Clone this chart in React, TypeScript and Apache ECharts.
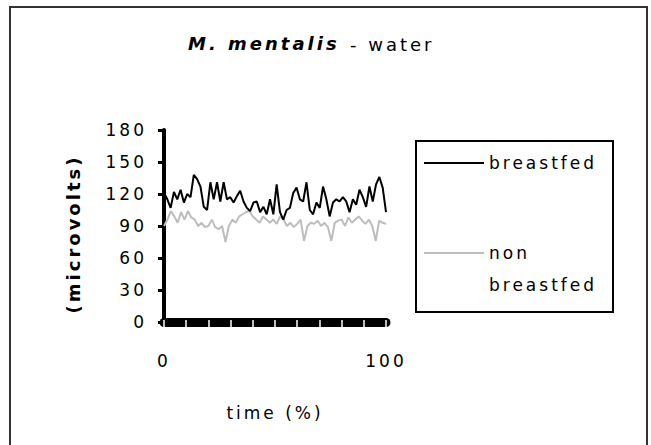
import React, { useEffect, useRef } from "react";
import * as echarts from "echarts";

const titleMain = "M. mentalis";
const titleSub = "- water";
const yAxisName = "(microvolts)";
const xAxisName = "time (%)";
const seriesNames = ["breastfed", "non breastfed"];
const xTickLabels = [0, 100];

const breastfed = [
  121, 115, 107, 122, 115, 124, 112, 120, 117, 138,
  134, 127, 108, 105, 131, 115, 131, 113, 131, 115,
  117, 112, 118, 123, 113, 107, 104, 112, 113, 103,
  108, 101, 115, 101, 129, 103, 96, 105, 107, 121,
  126, 115, 113, 131, 105, 101, 112, 107, 127, 115,
  99, 112, 115, 113, 117, 113, 103, 115, 110, 124,
  117, 108, 127, 113, 129, 136, 126, 103,
];

const nonBreastfed = [
  90, 96, 104, 99, 93, 103, 96, 104, 98, 96,
  90, 93, 89, 90, 96, 89, 87, 90, 75, 90,
  96, 93, 99, 101, 103, 104, 99, 96, 93, 99,
  96, 93, 96, 92, 99, 96, 90, 93, 89, 92,
  96, 76, 90, 93, 92, 95, 90, 93, 89, 76,
  93, 95, 96, 90, 98, 93, 96, 99, 95, 92,
  96, 90, 76, 95, 93, 92,
];

const FONT = '"DejaVu Sans", Verdana, sans-serif';

function toPairs(values: number[]) {
  const n = values.length;
  return values.map((v, i) => [(i * 100) / (n - 1), v]);
}

export default function App() {
  const ref = useRef<HTMLDivElement>(null);

  useEffect(() => {
    if (!ref.current) return;
    const chart = echarts.init(ref.current, undefined, { renderer: "svg" });
    chart.setOption({
      animation: false,
      backgroundColor: "#fff",
      title: [
        {
          text: titleMain,
          left: 188,
          top: 34,
          padding: 0,
          textStyle: {
            fontFamily: FONT,
            fontStyle: "italic",
            fontWeight: "bold",
            fontSize: 18,
            color: "#000",
          },
        },
        {
          text: titleSub,
          left: 350,
          top: 35,
          padding: 0,
          textStyle: {
            fontFamily: FONT,
            fontWeight: "normal",
            fontSize: 18,
            color: "#000",
          },
        },
      ],
      grid: { left: 164, right: 265, top: 130, bottom: 123 },
      legend: {
        orient: "vertical",
        left: 424,
        top: 147,
        padding: 0,
        itemGap: 26,
        itemWidth: 60,
        itemHeight: 2,
        icon: "rect",
        data: seriesNames,
        formatter: (name: string) =>
          name === "non breastfed" ? "\nnon\nbreastfed" : name,
        textStyle: {
          fontFamily: FONT,
          fontSize: 17,
          lineHeight: 32,
          color: "#000",
        },
      },
      xAxis: [
        {
          type: "value",
          min: 0,
          max: 100,
          interval: 10,
          offset: 3,
          position: "bottom",
          name: xAxisName,
          nameLocation: "middle",
          nameGap: 79,
          nameTextStyle: { fontFamily: FONT, fontSize: 17, color: "#000" },
          axisLine: { show: true, lineStyle: { color: "#000", width: 9 } },
          axisTick: { show: false },
          splitLine: { show: false },
          axisLabel: {
            margin: 27,
            fontFamily: FONT,
            fontSize: 17,
            color: "#000",
            formatter: (v: number) => (xTickLabels.includes(v) ? String(v) : ""),
          },
        },
        {
          type: "value",
          min: 0,
          max: 100,
          interval: 10,
          offset: 8,
          position: "bottom",
          z: 5,
          axisLine: { show: false },
          axisLabel: { show: false },
          splitLine: { show: false },
          axisTick: {
            show: true,
            inside: true,
            length: 10,
            lineStyle: { color: "#fff", width: 1.5 },
          },
        },
      ],
      yAxis: {
        type: "value",
        min: 0,
        max: 180,
        interval: 30,
        name: yAxisName,
        nameLocation: "middle",
        nameGap: 82,
        nameRotate: 90,
        nameTextStyle: {
          fontFamily: FONT,
          fontSize: 18,
          fontWeight: "bold",
          color: "#000",
          padding: [0, 16, 0, 0],
        },
        axisLine: { show: true, lineStyle: { color: "#000", width: 4 } },
        axisTick: { show: true, length: 6, lineStyle: { color: "#000", width: 3 } },
        splitLine: { show: false },
        axisLabel: { margin: 17, fontFamily: FONT, fontSize: 17, color: "#000" },
      },
      series: [
        {
          name: seriesNames[0],
          type: "line",
          xAxisIndex: 0,
          symbol: "none",
          data: toPairs(breastfed),
          lineStyle: { color: "#000", width: 2 },
          itemStyle: { color: "#000" },
          z: 3,
        },
        {
          name: seriesNames[1],
          type: "line",
          xAxisIndex: 0,
          symbol: "none",
          data: toPairs(nonBreastfed),
          lineStyle: { color: "#bdbdbd", width: 2 },
          itemStyle: { color: "#bdbdbd" },
          z: 2,
        },
      ],
      graphic: [
        {
          type: "rect",
          silent: true,
          shape: { x: 10, y: 7, width: 637, height: 450 },
          style: { fill: "none", stroke: "#333", lineWidth: 2 },
        },
        {
          type: "rect",
          silent: true,
          shape: { x: 416, y: 141, width: 197, height: 171 },
          style: { fill: "none", stroke: "#000", lineWidth: 2 },
        },
      ],
    });
    return () => chart.dispose();
  }, []);

  return (
    <div
      ref={ref}
      style={{
        position: "fixed",
        left: 0,
        top: 0,
        width: 651,
        height: 445,
        letterSpacing: "3px",
        background: "#fff",
      }}
    />
  );
}
